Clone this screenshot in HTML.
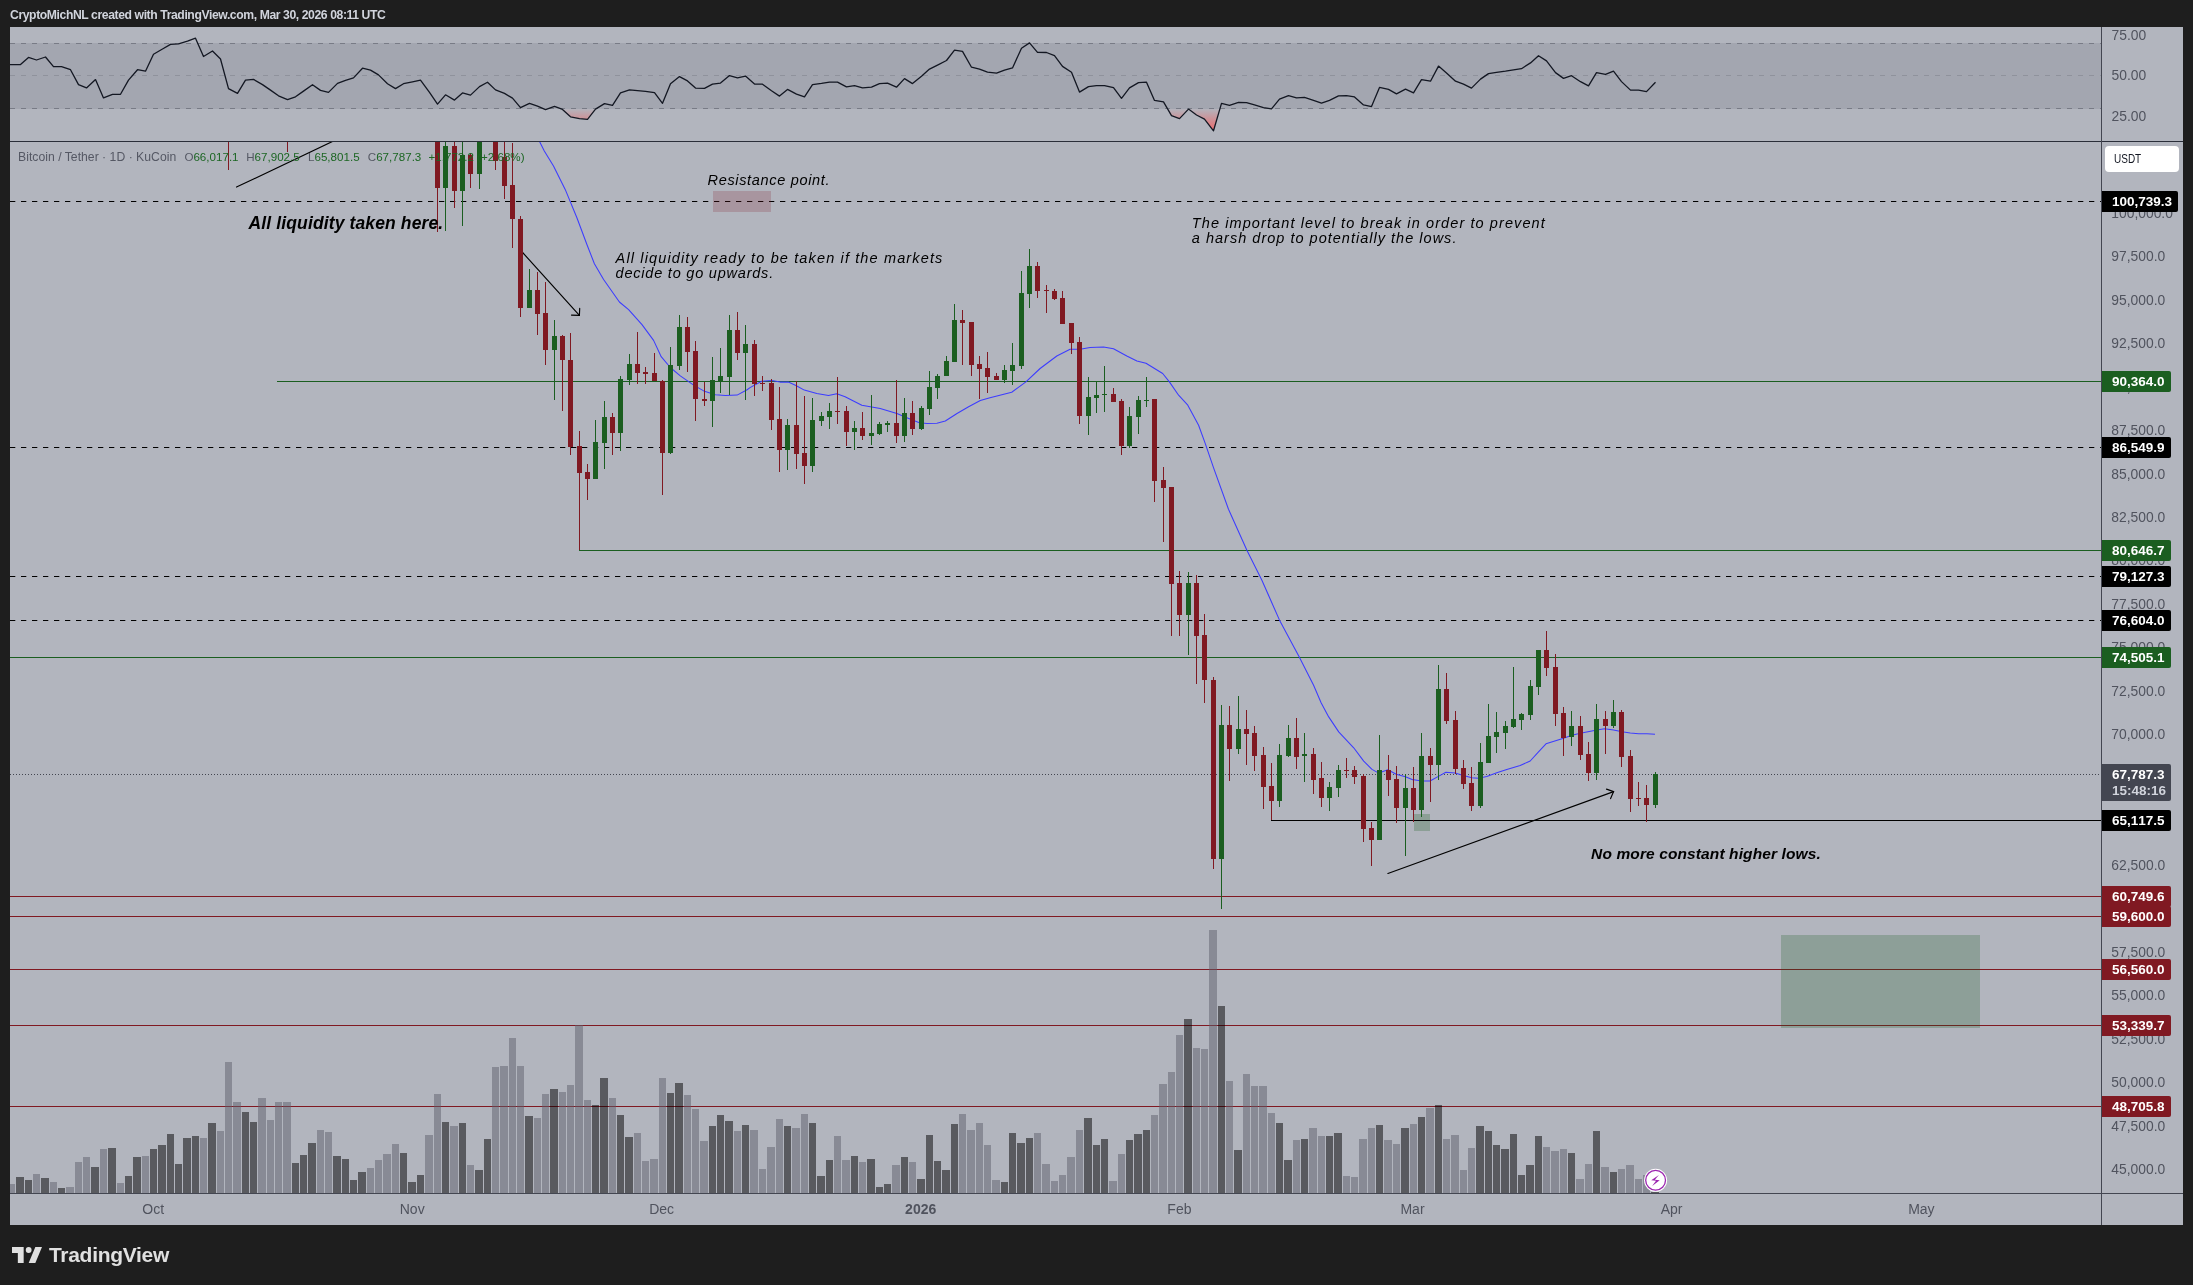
<!DOCTYPE html>
<html><head><meta charset="utf-8"><title>BTCUSDT chart</title>
<style>
html,body{margin:0;padding:0;background:#1e1e1e;}
body{width:2193px;height:1285px;position:relative;overflow:hidden;font-family:"Liberation Sans",sans-serif;}
svg.main{position:absolute;left:0;top:0;}
</style></head><body>
<svg class="main" width="2193" height="1285" viewBox="0 0 2193 1285">
<rect x="10" y="27" width="2173" height="1198" fill="#b2b5be"/>
<rect x="10" y="43" width="2091" height="66" fill="#a3a6b0"/>
<line x1="10" y1="43.5" x2="2101" y2="43.5" stroke="#787b86" stroke-width="1" stroke-dasharray="5 6" stroke-dashoffset="0" opacity="1"/>
<line x1="10" y1="75.5" x2="2101" y2="75.5" stroke="#787b86" stroke-width="1" stroke-dasharray="5 6" stroke-dashoffset="0" opacity="0.45"/>
<line x1="10" y1="108.5" x2="2101" y2="108.5" stroke="#787b86" stroke-width="1" stroke-dasharray="5 6" stroke-dashoffset="0" opacity="1"/>
<defs><linearGradient id="rg" x1="0" y1="108.5" x2="0" y2="138" gradientUnits="userSpaceOnUse"><stop offset="0" stop-color="#ff5252" stop-opacity="0"/><stop offset="1" stop-color="#ff5252" stop-opacity="1"/></linearGradient><clipPath id="rc"><rect x="10" y="108.5" width="2091" height="33"/></clipPath><clipPath id="mainclip"><rect x="10" y="142" width="2091" height="1051"/></clipPath></defs>
<polygon clip-path="url(#rc)" fill="url(#rg)" points="11.5,108.5 11.5,64.6 20.5,64.6 28.5,57.4 36.5,60.0 45.5,57.0 53.5,66.7 61.5,66.6 70.5,69.7 78.5,84.6 86.5,87.9 95.5,79.6 103.5,97.9 112.5,94.3 120.5,94.3 128.5,80.1 137.5,69.7 145.5,71.2 153.5,54.2 162.5,49.0 170.5,44.4 178.5,43.9 187.5,41.2 195.5,38.2 203.5,56.5 212.5,51.0 220.5,59.0 228.5,88.7 237.5,93.4 245.5,80.1 253.5,79.4 262.5,84.6 270.5,90.1 278.5,95.8 287.5,99.6 295.5,96.8 303.5,91.1 312.5,84.7 320.5,90.4 328.5,92.4 337.5,83.4 345.5,80.4 353.5,77.9 362.5,68.2 370.5,70.1 378.5,74.9 387.5,83.7 395.5,88.6 403.5,83.7 412.5,81.9 420.5,80.2 429.5,92.4 437.5,104.1 445.5,94.8 454.5,100.1 462.5,92.9 470.5,95.1 479.5,86.6 487.5,82.2 495.5,89.9 504.5,93.4 512.5,98.1 520.5,107.6 529.5,103.4 537.5,106.1 545.5,109.6 554.5,106.4 562.5,109.4 570.5,116.8 579.5,118.6 587.5,119.3 595.5,109.1 604.5,103.6 612.5,105.4 620.5,92.9 629.5,89.8 637.5,90.6 645.5,91.3 654.5,92.6 662.5,103.3 670.5,83.7 679.5,76.6 687.5,80.9 695.5,88.1 704.5,88.4 712.5,84.2 720.5,83.1 729.5,75.6 737.5,77.9 745.5,76.1 754.5,84.1 762.5,84.2 771.5,90.8 779.5,96.1 787.5,89.4 796.5,94.1 804.5,96.8 812.5,84.6 821.5,83.4 829.5,82.1 837.5,82.1 846.5,86.9 854.5,85.7 862.5,87.9 871.5,87.1 879.5,83.7 887.5,83.2 896.5,87.2 904.5,78.6 912.5,83.6 921.5,76.2 929.5,69.1 937.5,65.1 946.5,60.5 954.5,50.2 962.5,51.4 971.5,67.2 979.5,69.1 987.5,72.1 996.5,73.1 1004.5,70.1 1012.5,67.9 1021.5,48.2 1029.5,42.9 1037.5,52.4 1046.5,52.5 1054.5,55.7 1062.5,66.4 1071.5,72.2 1079.5,92.1 1088.5,86.6 1096.5,85.7 1104.5,85.6 1113.5,87.6 1121.5,98.3 1129.5,87.9 1138.5,82.6 1146.5,82.2 1154.5,100.4 1163.5,101.8 1171.5,115.6 1179.5,118.6 1188.5,109.1 1196.5,115.0 1204.5,119.1 1213.5,130.8 1221.5,103.4 1229.5,105.3 1238.5,102.3 1246.5,102.6 1254.5,104.9 1263.5,107.6 1271.5,108.9 1279.5,99.1 1288.5,95.6 1296.5,97.8 1304.5,97.4 1313.5,100.4 1321.5,103.1 1329.5,100.3 1338.5,95.8 1346.5,95.6 1354.5,96.9 1363.5,104.9 1371.5,106.6 1379.5,87.4 1388.5,89.4 1396.5,93.9 1405.5,89.2 1413.5,92.8 1421.5,79.6 1430.5,81.2 1438.5,66.1 1446.5,72.9 1455.5,81.2 1463.5,84.2 1471.5,88.1 1480.5,79.1 1488.5,73.6 1496.5,72.4 1505.5,71.2 1513.5,69.9 1521.5,68.7 1530.5,62.9 1538.5,55.7 1546.5,60.9 1555.5,72.6 1563.5,78.4 1571.5,75.7 1580.5,81.7 1588.5,85.9 1596.5,72.7 1605.5,74.4 1613.5,71.2 1621.5,81.6 1630.5,90.1 1638.5,90.1 1646.5,91.6 1655.5,82.2 1655.5,108.5"/>
<polyline fill="none" stroke="#131722" stroke-width="1.3" stroke-linejoin="round" points="10,64.6 11.5,64.6 20.5,64.6 28.5,57.4 36.5,60.0 45.5,57.0 53.5,66.7 61.5,66.6 70.5,69.7 78.5,84.6 86.5,87.9 95.5,79.6 103.5,97.9 112.5,94.3 120.5,94.3 128.5,80.1 137.5,69.7 145.5,71.2 153.5,54.2 162.5,49.0 170.5,44.4 178.5,43.9 187.5,41.2 195.5,38.2 203.5,56.5 212.5,51.0 220.5,59.0 228.5,88.7 237.5,93.4 245.5,80.1 253.5,79.4 262.5,84.6 270.5,90.1 278.5,95.8 287.5,99.6 295.5,96.8 303.5,91.1 312.5,84.7 320.5,90.4 328.5,92.4 337.5,83.4 345.5,80.4 353.5,77.9 362.5,68.2 370.5,70.1 378.5,74.9 387.5,83.7 395.5,88.6 403.5,83.7 412.5,81.9 420.5,80.2 429.5,92.4 437.5,104.1 445.5,94.8 454.5,100.1 462.5,92.9 470.5,95.1 479.5,86.6 487.5,82.2 495.5,89.9 504.5,93.4 512.5,98.1 520.5,107.6 529.5,103.4 537.5,106.1 545.5,109.6 554.5,106.4 562.5,109.4 570.5,116.8 579.5,118.6 587.5,119.3 595.5,109.1 604.5,103.6 612.5,105.4 620.5,92.9 629.5,89.8 637.5,90.6 645.5,91.3 654.5,92.6 662.5,103.3 670.5,83.7 679.5,76.6 687.5,80.9 695.5,88.1 704.5,88.4 712.5,84.2 720.5,83.1 729.5,75.6 737.5,77.9 745.5,76.1 754.5,84.1 762.5,84.2 771.5,90.8 779.5,96.1 787.5,89.4 796.5,94.1 804.5,96.8 812.5,84.6 821.5,83.4 829.5,82.1 837.5,82.1 846.5,86.9 854.5,85.7 862.5,87.9 871.5,87.1 879.5,83.7 887.5,83.2 896.5,87.2 904.5,78.6 912.5,83.6 921.5,76.2 929.5,69.1 937.5,65.1 946.5,60.5 954.5,50.2 962.5,51.4 971.5,67.2 979.5,69.1 987.5,72.1 996.5,73.1 1004.5,70.1 1012.5,67.9 1021.5,48.2 1029.5,42.9 1037.5,52.4 1046.5,52.5 1054.5,55.7 1062.5,66.4 1071.5,72.2 1079.5,92.1 1088.5,86.6 1096.5,85.7 1104.5,85.6 1113.5,87.6 1121.5,98.3 1129.5,87.9 1138.5,82.6 1146.5,82.2 1154.5,100.4 1163.5,101.8 1171.5,115.6 1179.5,118.6 1188.5,109.1 1196.5,115.0 1204.5,119.1 1213.5,130.8 1221.5,103.4 1229.5,105.3 1238.5,102.3 1246.5,102.6 1254.5,104.9 1263.5,107.6 1271.5,108.9 1279.5,99.1 1288.5,95.6 1296.5,97.8 1304.5,97.4 1313.5,100.4 1321.5,103.1 1329.5,100.3 1338.5,95.8 1346.5,95.6 1354.5,96.9 1363.5,104.9 1371.5,106.6 1379.5,87.4 1388.5,89.4 1396.5,93.9 1405.5,89.2 1413.5,92.8 1421.5,79.6 1430.5,81.2 1438.5,66.1 1446.5,72.9 1455.5,81.2 1463.5,84.2 1471.5,88.1 1480.5,79.1 1488.5,73.6 1496.5,72.4 1505.5,71.2 1513.5,69.9 1521.5,68.7 1530.5,62.9 1538.5,55.7 1546.5,60.9 1555.5,72.6 1563.5,78.4 1571.5,75.7 1580.5,81.7 1588.5,85.9 1596.5,72.7 1605.5,74.4 1613.5,71.2 1621.5,81.6 1630.5,90.1 1638.5,90.1 1646.5,91.6 1655.5,82.2"/>
<rect x="10" y="141" width="2173" height="1" fill="#2a2e39"/>
<g clip-path="url(#mainclip)">
<rect x="10" y="896" width="2091" height="1" fill="#801922" shape-rendering="crispEdges"/>
<rect x="10" y="916" width="2091" height="1" fill="#801922" shape-rendering="crispEdges"/>
<rect x="10" y="969" width="2091" height="1" fill="#801922" shape-rendering="crispEdges"/>
<rect x="10" y="1025" width="2091" height="1" fill="#801922" shape-rendering="crispEdges"/>
<rect x="10" y="1106" width="2091" height="1" fill="#801922" shape-rendering="crispEdges"/>
<rect x="277" y="381" width="1824" height="1" fill="#1b5e20" shape-rendering="crispEdges"/>
<rect x="579" y="550" width="1522" height="1" fill="#1b5e20" shape-rendering="crispEdges"/>
<rect x="10" y="657" width="2091" height="1" fill="#1b5e20" shape-rendering="crispEdges"/>
<line x1="10" y1="201.5" x2="2101" y2="201.5" stroke="#000" stroke-width="1.1" stroke-dasharray="5.3 5.7" stroke-dashoffset="0" opacity="1"/>
<line x1="10" y1="447.5" x2="2101" y2="447.5" stroke="#000" stroke-width="1.1" stroke-dasharray="5.3 5.7" stroke-dashoffset="0" opacity="1"/>
<line x1="10" y1="576.5" x2="2101" y2="576.5" stroke="#000" stroke-width="1.1" stroke-dasharray="5.3 5.7" stroke-dashoffset="0" opacity="1"/>
<line x1="10" y1="620.5" x2="2101" y2="620.5" stroke="#000" stroke-width="1.1" stroke-dasharray="5.3 5.7" stroke-dashoffset="0" opacity="1"/>
<line x1="10" y1="774.5" x2="2101" y2="774.5" stroke="#434651" stroke-width="1" stroke-dasharray="1 2" stroke-dashoffset="0" opacity="1"/>
<rect x="713" y="191" width="58" height="21" fill="rgba(128,25,34,0.2)"/>
<rect x="1414" y="814" width="16" height="17" fill="rgba(27,94,32,0.25)"/>
<rect x="1781" y="935" width="199" height="93" fill="rgba(27,94,32,0.24)"/>
<polyline fill="none" stroke="#3c3cff" stroke-width="1.05" stroke-linejoin="round" points="539.3,141.0 544.3,151.0 553.5,166.0 565.2,189.4 576.9,217.8 586.9,244.5 594.4,263.7 603.6,279.5 619.4,302.0 628.6,309.6 642.0,324.6 653.6,340.4 661.2,356.7 670.3,367.5 680.3,375.9 693.7,385.1 703.7,390.9 715.4,394.7 725.4,395.6 737.1,395.1 747.1,389.7 750.0,387.6 761.7,381.3 771.7,380.5 780.1,382.1 788.4,382.1 795.9,385.5 804.3,390.1 816.8,393.5 828.5,395.5 836.8,393.8 845.1,396.8 861.8,405.2 880.2,408.5 896.9,413.5 906.9,417.7 919.4,422.7 926.9,423.5 936.9,423.2 945.3,421.0 957.0,413.5 968.6,406.8 980.3,400.5 990.0,397.7 1011.7,392.2 1025.9,381.9 1040.1,368.5 1056.8,356.0 1070.1,349.3 1080.1,349.3 1090.1,347.6 1103.5,347.1 1113.5,348.8 1126.8,356.0 1136.9,361.0 1146.0,363.2 1162.7,373.5 1169.4,381.9 1178.6,395.2 1187.8,405.2 1198.6,425.2 1205.2,443.4 1213.5,467.6 1228.5,509.3 1246.9,550.2 1261.9,580.2 1279.4,619.9 1299.4,657.3 1313.6,685.2 1321.1,702.7 1328.7,716.9 1338.7,731.9 1353.7,747.8 1363.7,761.1 1372.0,769.4 1378.7,773.1 1387.9,769.7 1396.2,774.2 1405.4,776.7 1413.4,779.9 1413.8,779.7 1421.7,781.0 1430.1,781.0 1438.4,776.4 1445.9,772.2 1455.1,773.0 1463.4,775.5 1471.8,777.7 1478.5,778.2 1486.8,776.5 1496.8,772.7 1506.8,769.4 1520.2,765.5 1530.2,761.0 1538.5,751.8 1546.0,743.8 1563.6,738.2 1571.9,735.2 1580.3,733.2 1596.9,730.1 1604.5,728.8 1613.6,730.1 1622.0,731.8 1630.3,733.0 1638.7,733.8 1647.0,733.8 1655.0,734.3"/>
<rect x="1271" y="820" width="830" height="1" fill="#000" shape-rendering="crispEdges"/>
<line x1="236.5" y1="187.1" x2="352.2" y2="132.1" stroke="#000" stroke-width="1.15" stroke-linecap="round"/>
<line x1="522.6" y1="252.5" x2="579.4" y2="315.4" stroke="#000" stroke-width="1.15" stroke-linecap="round"/>
<line x1="579.4" y1="315.4" x2="571.5" y2="315.1" stroke="#000" stroke-width="1.15" stroke-linecap="round"/>
<line x1="579.4" y1="315.4" x2="579.7" y2="308.4" stroke="#000" stroke-width="1.15" stroke-linecap="round"/>
<line x1="1387.9" y1="873.5" x2="1613.6" y2="791.6" stroke="#000" stroke-width="1.15" stroke-linecap="round"/>
<line x1="1613.6" y1="791.6" x2="1606.5" y2="789.1" stroke="#000" stroke-width="1.15" stroke-linecap="round"/>
<line x1="1613.6" y1="791.6" x2="1610.6" y2="798.6" stroke="#000" stroke-width="1.15" stroke-linecap="round"/>
<rect x="8" y="1184" width="7" height="9" fill="rgba(93,96,107,0.5)" shape-rendering="crispEdges"/>
<rect x="16" y="1177" width="8" height="16" fill="rgba(0,0,0,0.5)" shape-rendering="crispEdges"/>
<rect x="25" y="1180" width="7" height="13" fill="rgba(0,0,0,0.5)" shape-rendering="crispEdges"/>
<rect x="33" y="1174" width="7" height="19" fill="rgba(93,96,107,0.5)" shape-rendering="crispEdges"/>
<rect x="41" y="1178" width="8" height="15" fill="rgba(0,0,0,0.5)" shape-rendering="crispEdges"/>
<rect x="50" y="1182" width="7" height="11" fill="rgba(93,96,107,0.5)" shape-rendering="crispEdges"/>
<rect x="58" y="1188" width="7" height="5" fill="rgba(0,0,0,0.5)" shape-rendering="crispEdges"/>
<rect x="66" y="1187" width="8" height="6" fill="rgba(93,96,107,0.5)" shape-rendering="crispEdges"/>
<rect x="75" y="1162" width="7" height="31" fill="rgba(93,96,107,0.5)" shape-rendering="crispEdges"/>
<rect x="83" y="1157" width="7" height="36" fill="rgba(93,96,107,0.5)" shape-rendering="crispEdges"/>
<rect x="91" y="1167" width="8" height="26" fill="rgba(0,0,0,0.5)" shape-rendering="crispEdges"/>
<rect x="100" y="1149" width="7" height="44" fill="rgba(93,96,107,0.5)" shape-rendering="crispEdges"/>
<rect x="108" y="1148" width="8" height="45" fill="rgba(0,0,0,0.5)" shape-rendering="crispEdges"/>
<rect x="117" y="1183" width="7" height="10" fill="rgba(93,96,107,0.5)" shape-rendering="crispEdges"/>
<rect x="125" y="1176" width="7" height="17" fill="rgba(0,0,0,0.5)" shape-rendering="crispEdges"/>
<rect x="133" y="1157" width="8" height="36" fill="rgba(0,0,0,0.5)" shape-rendering="crispEdges"/>
<rect x="142" y="1156" width="7" height="37" fill="rgba(93,96,107,0.5)" shape-rendering="crispEdges"/>
<rect x="150" y="1149" width="7" height="44" fill="rgba(0,0,0,0.5)" shape-rendering="crispEdges"/>
<rect x="158" y="1145" width="8" height="48" fill="rgba(0,0,0,0.5)" shape-rendering="crispEdges"/>
<rect x="167" y="1134" width="7" height="59" fill="rgba(0,0,0,0.5)" shape-rendering="crispEdges"/>
<rect x="175" y="1164" width="7" height="29" fill="rgba(0,0,0,0.5)" shape-rendering="crispEdges"/>
<rect x="183" y="1138" width="8" height="55" fill="rgba(0,0,0,0.5)" shape-rendering="crispEdges"/>
<rect x="192" y="1136" width="7" height="57" fill="rgba(0,0,0,0.5)" shape-rendering="crispEdges"/>
<rect x="200" y="1138" width="7" height="55" fill="rgba(93,96,107,0.5)" shape-rendering="crispEdges"/>
<rect x="208" y="1123" width="8" height="70" fill="rgba(0,0,0,0.5)" shape-rendering="crispEdges"/>
<rect x="217" y="1131" width="7" height="62" fill="rgba(93,96,107,0.5)" shape-rendering="crispEdges"/>
<rect x="225" y="1062" width="7" height="131" fill="rgba(93,96,107,0.5)" shape-rendering="crispEdges"/>
<rect x="233" y="1102" width="8" height="91" fill="rgba(93,96,107,0.5)" shape-rendering="crispEdges"/>
<rect x="242" y="1112" width="7" height="81" fill="rgba(0,0,0,0.5)" shape-rendering="crispEdges"/>
<rect x="250" y="1122" width="7" height="71" fill="rgba(0,0,0,0.5)" shape-rendering="crispEdges"/>
<rect x="258" y="1098" width="8" height="95" fill="rgba(93,96,107,0.5)" shape-rendering="crispEdges"/>
<rect x="267" y="1120" width="7" height="73" fill="rgba(93,96,107,0.5)" shape-rendering="crispEdges"/>
<rect x="275" y="1102" width="7" height="91" fill="rgba(93,96,107,0.5)" shape-rendering="crispEdges"/>
<rect x="283" y="1102" width="8" height="91" fill="rgba(93,96,107,0.5)" shape-rendering="crispEdges"/>
<rect x="292" y="1163" width="7" height="30" fill="rgba(0,0,0,0.5)" shape-rendering="crispEdges"/>
<rect x="300" y="1155" width="7" height="38" fill="rgba(0,0,0,0.5)" shape-rendering="crispEdges"/>
<rect x="308" y="1143" width="8" height="50" fill="rgba(0,0,0,0.5)" shape-rendering="crispEdges"/>
<rect x="317" y="1130" width="7" height="63" fill="rgba(93,96,107,0.5)" shape-rendering="crispEdges"/>
<rect x="325" y="1132" width="7" height="61" fill="rgba(93,96,107,0.5)" shape-rendering="crispEdges"/>
<rect x="333" y="1156" width="8" height="37" fill="rgba(0,0,0,0.5)" shape-rendering="crispEdges"/>
<rect x="342" y="1159" width="7" height="34" fill="rgba(0,0,0,0.5)" shape-rendering="crispEdges"/>
<rect x="350" y="1180" width="7" height="13" fill="rgba(0,0,0,0.5)" shape-rendering="crispEdges"/>
<rect x="358" y="1172" width="8" height="21" fill="rgba(0,0,0,0.5)" shape-rendering="crispEdges"/>
<rect x="367" y="1168" width="7" height="25" fill="rgba(93,96,107,0.5)" shape-rendering="crispEdges"/>
<rect x="375" y="1160" width="7" height="33" fill="rgba(93,96,107,0.5)" shape-rendering="crispEdges"/>
<rect x="383" y="1154" width="8" height="39" fill="rgba(93,96,107,0.5)" shape-rendering="crispEdges"/>
<rect x="392" y="1144" width="7" height="49" fill="rgba(93,96,107,0.5)" shape-rendering="crispEdges"/>
<rect x="400" y="1153" width="7" height="40" fill="rgba(0,0,0,0.5)" shape-rendering="crispEdges"/>
<rect x="408" y="1182" width="8" height="11" fill="rgba(0,0,0,0.5)" shape-rendering="crispEdges"/>
<rect x="417" y="1175" width="7" height="18" fill="rgba(0,0,0,0.5)" shape-rendering="crispEdges"/>
<rect x="425" y="1135" width="8" height="58" fill="rgba(93,96,107,0.5)" shape-rendering="crispEdges"/>
<rect x="434" y="1094" width="7" height="99" fill="rgba(93,96,107,0.5)" shape-rendering="crispEdges"/>
<rect x="442" y="1122" width="7" height="71" fill="rgba(0,0,0,0.5)" shape-rendering="crispEdges"/>
<rect x="450" y="1126" width="8" height="67" fill="rgba(93,96,107,0.5)" shape-rendering="crispEdges"/>
<rect x="459" y="1123" width="7" height="70" fill="rgba(0,0,0,0.5)" shape-rendering="crispEdges"/>
<rect x="467" y="1165" width="7" height="28" fill="rgba(93,96,107,0.5)" shape-rendering="crispEdges"/>
<rect x="475" y="1170" width="8" height="23" fill="rgba(0,0,0,0.5)" shape-rendering="crispEdges"/>
<rect x="484" y="1139" width="7" height="54" fill="rgba(0,0,0,0.5)" shape-rendering="crispEdges"/>
<rect x="492" y="1067" width="7" height="126" fill="rgba(93,96,107,0.5)" shape-rendering="crispEdges"/>
<rect x="500" y="1066" width="8" height="127" fill="rgba(93,96,107,0.5)" shape-rendering="crispEdges"/>
<rect x="509" y="1038" width="7" height="155" fill="rgba(93,96,107,0.5)" shape-rendering="crispEdges"/>
<rect x="517" y="1066" width="7" height="127" fill="rgba(93,96,107,0.5)" shape-rendering="crispEdges"/>
<rect x="525" y="1116" width="8" height="77" fill="rgba(0,0,0,0.5)" shape-rendering="crispEdges"/>
<rect x="534" y="1118" width="7" height="75" fill="rgba(93,96,107,0.5)" shape-rendering="crispEdges"/>
<rect x="542" y="1094" width="7" height="99" fill="rgba(93,96,107,0.5)" shape-rendering="crispEdges"/>
<rect x="550" y="1089" width="8" height="104" fill="rgba(0,0,0,0.5)" shape-rendering="crispEdges"/>
<rect x="559" y="1092" width="7" height="101" fill="rgba(93,96,107,0.5)" shape-rendering="crispEdges"/>
<rect x="567" y="1085" width="7" height="108" fill="rgba(93,96,107,0.5)" shape-rendering="crispEdges"/>
<rect x="575" y="1025" width="8" height="168" fill="rgba(93,96,107,0.5)" shape-rendering="crispEdges"/>
<rect x="584" y="1100" width="7" height="93" fill="rgba(93,96,107,0.5)" shape-rendering="crispEdges"/>
<rect x="592" y="1105" width="7" height="88" fill="rgba(0,0,0,0.5)" shape-rendering="crispEdges"/>
<rect x="600" y="1078" width="8" height="115" fill="rgba(0,0,0,0.5)" shape-rendering="crispEdges"/>
<rect x="609" y="1098" width="7" height="95" fill="rgba(93,96,107,0.5)" shape-rendering="crispEdges"/>
<rect x="617" y="1115" width="7" height="78" fill="rgba(0,0,0,0.5)" shape-rendering="crispEdges"/>
<rect x="625" y="1137" width="8" height="56" fill="rgba(0,0,0,0.5)" shape-rendering="crispEdges"/>
<rect x="634" y="1133" width="7" height="60" fill="rgba(93,96,107,0.5)" shape-rendering="crispEdges"/>
<rect x="642" y="1161" width="7" height="32" fill="rgba(93,96,107,0.5)" shape-rendering="crispEdges"/>
<rect x="650" y="1159" width="8" height="34" fill="rgba(93,96,107,0.5)" shape-rendering="crispEdges"/>
<rect x="659" y="1078" width="7" height="115" fill="rgba(93,96,107,0.5)" shape-rendering="crispEdges"/>
<rect x="667" y="1093" width="7" height="100" fill="rgba(0,0,0,0.5)" shape-rendering="crispEdges"/>
<rect x="675" y="1083" width="8" height="110" fill="rgba(0,0,0,0.5)" shape-rendering="crispEdges"/>
<rect x="684" y="1095" width="7" height="98" fill="rgba(93,96,107,0.5)" shape-rendering="crispEdges"/>
<rect x="692" y="1109" width="7" height="84" fill="rgba(93,96,107,0.5)" shape-rendering="crispEdges"/>
<rect x="700" y="1141" width="8" height="52" fill="rgba(93,96,107,0.5)" shape-rendering="crispEdges"/>
<rect x="709" y="1126" width="7" height="67" fill="rgba(0,0,0,0.5)" shape-rendering="crispEdges"/>
<rect x="717" y="1115" width="7" height="78" fill="rgba(0,0,0,0.5)" shape-rendering="crispEdges"/>
<rect x="725" y="1121" width="8" height="72" fill="rgba(0,0,0,0.5)" shape-rendering="crispEdges"/>
<rect x="734" y="1131" width="7" height="62" fill="rgba(93,96,107,0.5)" shape-rendering="crispEdges"/>
<rect x="742" y="1125" width="7" height="68" fill="rgba(0,0,0,0.5)" shape-rendering="crispEdges"/>
<rect x="750" y="1130" width="8" height="63" fill="rgba(93,96,107,0.5)" shape-rendering="crispEdges"/>
<rect x="759" y="1169" width="7" height="24" fill="rgba(93,96,107,0.5)" shape-rendering="crispEdges"/>
<rect x="767" y="1147" width="8" height="46" fill="rgba(93,96,107,0.5)" shape-rendering="crispEdges"/>
<rect x="776" y="1119" width="7" height="74" fill="rgba(93,96,107,0.5)" shape-rendering="crispEdges"/>
<rect x="784" y="1126" width="7" height="67" fill="rgba(0,0,0,0.5)" shape-rendering="crispEdges"/>
<rect x="792" y="1128" width="8" height="65" fill="rgba(93,96,107,0.5)" shape-rendering="crispEdges"/>
<rect x="801" y="1114" width="7" height="79" fill="rgba(93,96,107,0.5)" shape-rendering="crispEdges"/>
<rect x="809" y="1123" width="7" height="70" fill="rgba(0,0,0,0.5)" shape-rendering="crispEdges"/>
<rect x="817" y="1176" width="8" height="17" fill="rgba(0,0,0,0.5)" shape-rendering="crispEdges"/>
<rect x="826" y="1160" width="7" height="33" fill="rgba(0,0,0,0.5)" shape-rendering="crispEdges"/>
<rect x="834" y="1136" width="7" height="57" fill="rgba(93,96,107,0.5)" shape-rendering="crispEdges"/>
<rect x="842" y="1160" width="8" height="33" fill="rgba(93,96,107,0.5)" shape-rendering="crispEdges"/>
<rect x="851" y="1156" width="7" height="37" fill="rgba(0,0,0,0.5)" shape-rendering="crispEdges"/>
<rect x="859" y="1162" width="7" height="31" fill="rgba(93,96,107,0.5)" shape-rendering="crispEdges"/>
<rect x="867" y="1159" width="8" height="34" fill="rgba(0,0,0,0.5)" shape-rendering="crispEdges"/>
<rect x="876" y="1187" width="7" height="6" fill="rgba(0,0,0,0.5)" shape-rendering="crispEdges"/>
<rect x="884" y="1184" width="7" height="9" fill="rgba(0,0,0,0.5)" shape-rendering="crispEdges"/>
<rect x="892" y="1165" width="8" height="28" fill="rgba(93,96,107,0.5)" shape-rendering="crispEdges"/>
<rect x="901" y="1157" width="7" height="36" fill="rgba(0,0,0,0.5)" shape-rendering="crispEdges"/>
<rect x="909" y="1162" width="7" height="31" fill="rgba(93,96,107,0.5)" shape-rendering="crispEdges"/>
<rect x="917" y="1179" width="8" height="14" fill="rgba(0,0,0,0.5)" shape-rendering="crispEdges"/>
<rect x="926" y="1135" width="7" height="58" fill="rgba(0,0,0,0.5)" shape-rendering="crispEdges"/>
<rect x="934" y="1161" width="7" height="32" fill="rgba(0,0,0,0.5)" shape-rendering="crispEdges"/>
<rect x="942" y="1170" width="8" height="23" fill="rgba(0,0,0,0.5)" shape-rendering="crispEdges"/>
<rect x="951" y="1124" width="7" height="69" fill="rgba(0,0,0,0.5)" shape-rendering="crispEdges"/>
<rect x="959" y="1114" width="7" height="79" fill="rgba(93,96,107,0.5)" shape-rendering="crispEdges"/>
<rect x="967" y="1130" width="8" height="63" fill="rgba(93,96,107,0.5)" shape-rendering="crispEdges"/>
<rect x="976" y="1123" width="7" height="70" fill="rgba(93,96,107,0.5)" shape-rendering="crispEdges"/>
<rect x="984" y="1145" width="7" height="48" fill="rgba(93,96,107,0.5)" shape-rendering="crispEdges"/>
<rect x="992" y="1180" width="8" height="13" fill="rgba(93,96,107,0.5)" shape-rendering="crispEdges"/>
<rect x="1001" y="1182" width="7" height="11" fill="rgba(0,0,0,0.5)" shape-rendering="crispEdges"/>
<rect x="1009" y="1133" width="7" height="60" fill="rgba(0,0,0,0.5)" shape-rendering="crispEdges"/>
<rect x="1017" y="1143" width="8" height="50" fill="rgba(0,0,0,0.5)" shape-rendering="crispEdges"/>
<rect x="1026" y="1138" width="7" height="55" fill="rgba(0,0,0,0.5)" shape-rendering="crispEdges"/>
<rect x="1034" y="1133" width="7" height="60" fill="rgba(93,96,107,0.5)" shape-rendering="crispEdges"/>
<rect x="1042" y="1164" width="8" height="29" fill="rgba(93,96,107,0.5)" shape-rendering="crispEdges"/>
<rect x="1051" y="1181" width="7" height="12" fill="rgba(93,96,107,0.5)" shape-rendering="crispEdges"/>
<rect x="1059" y="1175" width="7" height="18" fill="rgba(93,96,107,0.5)" shape-rendering="crispEdges"/>
<rect x="1067" y="1157" width="8" height="36" fill="rgba(93,96,107,0.5)" shape-rendering="crispEdges"/>
<rect x="1076" y="1130" width="7" height="63" fill="rgba(93,96,107,0.5)" shape-rendering="crispEdges"/>
<rect x="1084" y="1118" width="8" height="75" fill="rgba(0,0,0,0.5)" shape-rendering="crispEdges"/>
<rect x="1093" y="1145" width="7" height="48" fill="rgba(0,0,0,0.5)" shape-rendering="crispEdges"/>
<rect x="1101" y="1139" width="7" height="54" fill="rgba(0,0,0,0.5)" shape-rendering="crispEdges"/>
<rect x="1109" y="1181" width="8" height="12" fill="rgba(93,96,107,0.5)" shape-rendering="crispEdges"/>
<rect x="1118" y="1154" width="7" height="39" fill="rgba(93,96,107,0.5)" shape-rendering="crispEdges"/>
<rect x="1126" y="1140" width="7" height="53" fill="rgba(0,0,0,0.5)" shape-rendering="crispEdges"/>
<rect x="1134" y="1134" width="8" height="59" fill="rgba(0,0,0,0.5)" shape-rendering="crispEdges"/>
<rect x="1143" y="1130" width="7" height="63" fill="rgba(0,0,0,0.5)" shape-rendering="crispEdges"/>
<rect x="1151" y="1115" width="7" height="78" fill="rgba(93,96,107,0.5)" shape-rendering="crispEdges"/>
<rect x="1159" y="1084" width="8" height="109" fill="rgba(93,96,107,0.5)" shape-rendering="crispEdges"/>
<rect x="1168" y="1072" width="7" height="121" fill="rgba(93,96,107,0.5)" shape-rendering="crispEdges"/>
<rect x="1176" y="1035" width="7" height="158" fill="rgba(93,96,107,0.5)" shape-rendering="crispEdges"/>
<rect x="1184" y="1019" width="8" height="174" fill="rgba(0,0,0,0.5)" shape-rendering="crispEdges"/>
<rect x="1193" y="1048" width="7" height="145" fill="rgba(93,96,107,0.5)" shape-rendering="crispEdges"/>
<rect x="1201" y="1049" width="7" height="144" fill="rgba(93,96,107,0.5)" shape-rendering="crispEdges"/>
<rect x="1209" y="930" width="8" height="263" fill="rgba(93,96,107,0.5)" shape-rendering="crispEdges"/>
<rect x="1218" y="1006" width="7" height="187" fill="rgba(0,0,0,0.5)" shape-rendering="crispEdges"/>
<rect x="1226" y="1081" width="7" height="112" fill="rgba(93,96,107,0.5)" shape-rendering="crispEdges"/>
<rect x="1234" y="1150" width="8" height="43" fill="rgba(0,0,0,0.5)" shape-rendering="crispEdges"/>
<rect x="1243" y="1074" width="7" height="119" fill="rgba(93,96,107,0.5)" shape-rendering="crispEdges"/>
<rect x="1251" y="1086" width="7" height="107" fill="rgba(93,96,107,0.5)" shape-rendering="crispEdges"/>
<rect x="1259" y="1086" width="8" height="107" fill="rgba(93,96,107,0.5)" shape-rendering="crispEdges"/>
<rect x="1268" y="1113" width="7" height="80" fill="rgba(93,96,107,0.5)" shape-rendering="crispEdges"/>
<rect x="1276" y="1123" width="7" height="70" fill="rgba(0,0,0,0.5)" shape-rendering="crispEdges"/>
<rect x="1284" y="1160" width="8" height="33" fill="rgba(0,0,0,0.5)" shape-rendering="crispEdges"/>
<rect x="1293" y="1140" width="7" height="53" fill="rgba(93,96,107,0.5)" shape-rendering="crispEdges"/>
<rect x="1301" y="1139" width="7" height="54" fill="rgba(0,0,0,0.5)" shape-rendering="crispEdges"/>
<rect x="1309" y="1128" width="8" height="65" fill="rgba(93,96,107,0.5)" shape-rendering="crispEdges"/>
<rect x="1318" y="1136" width="7" height="57" fill="rgba(93,96,107,0.5)" shape-rendering="crispEdges"/>
<rect x="1326" y="1136" width="7" height="57" fill="rgba(0,0,0,0.5)" shape-rendering="crispEdges"/>
<rect x="1334" y="1133" width="8" height="60" fill="rgba(0,0,0,0.5)" shape-rendering="crispEdges"/>
<rect x="1343" y="1176" width="7" height="17" fill="rgba(93,96,107,0.5)" shape-rendering="crispEdges"/>
<rect x="1351" y="1177" width="7" height="16" fill="rgba(93,96,107,0.5)" shape-rendering="crispEdges"/>
<rect x="1359" y="1139" width="8" height="54" fill="rgba(93,96,107,0.5)" shape-rendering="crispEdges"/>
<rect x="1368" y="1128" width="7" height="65" fill="rgba(93,96,107,0.5)" shape-rendering="crispEdges"/>
<rect x="1376" y="1125" width="7" height="68" fill="rgba(0,0,0,0.5)" shape-rendering="crispEdges"/>
<rect x="1384" y="1140" width="8" height="53" fill="rgba(93,96,107,0.5)" shape-rendering="crispEdges"/>
<rect x="1393" y="1144" width="7" height="49" fill="rgba(93,96,107,0.5)" shape-rendering="crispEdges"/>
<rect x="1401" y="1128" width="8" height="65" fill="rgba(0,0,0,0.5)" shape-rendering="crispEdges"/>
<rect x="1410" y="1124" width="7" height="69" fill="rgba(93,96,107,0.5)" shape-rendering="crispEdges"/>
<rect x="1418" y="1117" width="7" height="76" fill="rgba(0,0,0,0.5)" shape-rendering="crispEdges"/>
<rect x="1426" y="1108" width="8" height="85" fill="rgba(93,96,107,0.5)" shape-rendering="crispEdges"/>
<rect x="1435" y="1105" width="7" height="88" fill="rgba(0,0,0,0.5)" shape-rendering="crispEdges"/>
<rect x="1443" y="1139" width="7" height="54" fill="rgba(93,96,107,0.5)" shape-rendering="crispEdges"/>
<rect x="1451" y="1135" width="8" height="58" fill="rgba(93,96,107,0.5)" shape-rendering="crispEdges"/>
<rect x="1460" y="1170" width="7" height="23" fill="rgba(93,96,107,0.5)" shape-rendering="crispEdges"/>
<rect x="1468" y="1148" width="7" height="45" fill="rgba(93,96,107,0.5)" shape-rendering="crispEdges"/>
<rect x="1476" y="1126" width="8" height="67" fill="rgba(0,0,0,0.5)" shape-rendering="crispEdges"/>
<rect x="1485" y="1131" width="7" height="62" fill="rgba(0,0,0,0.5)" shape-rendering="crispEdges"/>
<rect x="1493" y="1145" width="7" height="48" fill="rgba(0,0,0,0.5)" shape-rendering="crispEdges"/>
<rect x="1501" y="1149" width="8" height="44" fill="rgba(0,0,0,0.5)" shape-rendering="crispEdges"/>
<rect x="1510" y="1134" width="7" height="59" fill="rgba(0,0,0,0.5)" shape-rendering="crispEdges"/>
<rect x="1518" y="1175" width="7" height="18" fill="rgba(0,0,0,0.5)" shape-rendering="crispEdges"/>
<rect x="1526" y="1165" width="8" height="28" fill="rgba(0,0,0,0.5)" shape-rendering="crispEdges"/>
<rect x="1535" y="1136" width="7" height="57" fill="rgba(0,0,0,0.5)" shape-rendering="crispEdges"/>
<rect x="1543" y="1147" width="7" height="46" fill="rgba(93,96,107,0.5)" shape-rendering="crispEdges"/>
<rect x="1551" y="1151" width="8" height="42" fill="rgba(93,96,107,0.5)" shape-rendering="crispEdges"/>
<rect x="1560" y="1149" width="7" height="44" fill="rgba(93,96,107,0.5)" shape-rendering="crispEdges"/>
<rect x="1568" y="1153" width="7" height="40" fill="rgba(0,0,0,0.5)" shape-rendering="crispEdges"/>
<rect x="1576" y="1179" width="8" height="14" fill="rgba(93,96,107,0.5)" shape-rendering="crispEdges"/>
<rect x="1585" y="1164" width="7" height="29" fill="rgba(93,96,107,0.5)" shape-rendering="crispEdges"/>
<rect x="1593" y="1131" width="7" height="62" fill="rgba(0,0,0,0.5)" shape-rendering="crispEdges"/>
<rect x="1601" y="1167" width="8" height="26" fill="rgba(93,96,107,0.5)" shape-rendering="crispEdges"/>
<rect x="1610" y="1172" width="7" height="21" fill="rgba(0,0,0,0.5)" shape-rendering="crispEdges"/>
<rect x="1618" y="1169" width="7" height="24" fill="rgba(93,96,107,0.5)" shape-rendering="crispEdges"/>
<rect x="1626" y="1165" width="8" height="28" fill="rgba(93,96,107,0.5)" shape-rendering="crispEdges"/>
<rect x="1635" y="1179" width="7" height="14" fill="rgba(93,96,107,0.5)" shape-rendering="crispEdges"/>
<rect x="1643" y="1175" width="7" height="18" fill="rgba(93,96,107,0.5)" shape-rendering="crispEdges"/>
<rect x="1651" y="1192" width="8" height="1" fill="rgba(0,0,0,0.5)" shape-rendering="crispEdges"/>
<rect x="228" y="100" width="1" height="70" fill="#801922" shape-rendering="crispEdges"/>
<rect x="226" y="100" width="5" height="1" fill="#801922" shape-rendering="crispEdges"/>
<rect x="287" y="100" width="1" height="52" fill="#801922" shape-rendering="crispEdges"/>
<rect x="285" y="100" width="5" height="1" fill="#801922" shape-rendering="crispEdges"/>
<rect x="437" y="100" width="1" height="132" fill="#801922" shape-rendering="crispEdges"/>
<rect x="435" y="100" width="5" height="88" fill="#801922" shape-rendering="crispEdges"/>
<rect x="445" y="100" width="1" height="131" fill="#1b5e20" shape-rendering="crispEdges"/>
<rect x="443" y="146" width="5" height="42" fill="#1b5e20" shape-rendering="crispEdges"/>
<rect x="454" y="100" width="1" height="108" fill="#801922" shape-rendering="crispEdges"/>
<rect x="452" y="146" width="5" height="45" fill="#801922" shape-rendering="crispEdges"/>
<rect x="462" y="100" width="1" height="126" fill="#1b5e20" shape-rendering="crispEdges"/>
<rect x="460" y="155" width="5" height="36" fill="#1b5e20" shape-rendering="crispEdges"/>
<rect x="470" y="153" width="1" height="35" fill="#801922" shape-rendering="crispEdges"/>
<rect x="468" y="155" width="5" height="19" fill="#801922" shape-rendering="crispEdges"/>
<rect x="479" y="100" width="1" height="89" fill="#1b5e20" shape-rendering="crispEdges"/>
<rect x="477" y="100" width="5" height="74" fill="#1b5e20" shape-rendering="crispEdges"/>
<rect x="495" y="100" width="1" height="70" fill="#801922" shape-rendering="crispEdges"/>
<rect x="493" y="100" width="5" height="61" fill="#801922" shape-rendering="crispEdges"/>
<rect x="504" y="100" width="1" height="99" fill="#801922" shape-rendering="crispEdges"/>
<rect x="502" y="157" width="5" height="29" fill="#801922" shape-rendering="crispEdges"/>
<rect x="512" y="143" width="1" height="105" fill="#801922" shape-rendering="crispEdges"/>
<rect x="510" y="185" width="5" height="34" fill="#801922" shape-rendering="crispEdges"/>
<rect x="520" y="216" width="1" height="101" fill="#801922" shape-rendering="crispEdges"/>
<rect x="518" y="219" width="5" height="89" fill="#801922" shape-rendering="crispEdges"/>
<rect x="529" y="269" width="1" height="39" fill="#1b5e20" shape-rendering="crispEdges"/>
<rect x="527" y="290" width="5" height="18" fill="#1b5e20" shape-rendering="crispEdges"/>
<rect x="537" y="272" width="1" height="63" fill="#801922" shape-rendering="crispEdges"/>
<rect x="535" y="290" width="5" height="24" fill="#801922" shape-rendering="crispEdges"/>
<rect x="545" y="282" width="1" height="83" fill="#801922" shape-rendering="crispEdges"/>
<rect x="543" y="313" width="5" height="37" fill="#801922" shape-rendering="crispEdges"/>
<rect x="554" y="320" width="1" height="80" fill="#1b5e20" shape-rendering="crispEdges"/>
<rect x="552" y="336" width="5" height="14" fill="#1b5e20" shape-rendering="crispEdges"/>
<rect x="562" y="335" width="1" height="76" fill="#801922" shape-rendering="crispEdges"/>
<rect x="560" y="336" width="5" height="24" fill="#801922" shape-rendering="crispEdges"/>
<rect x="570" y="333" width="1" height="122" fill="#801922" shape-rendering="crispEdges"/>
<rect x="568" y="360" width="5" height="87" fill="#801922" shape-rendering="crispEdges"/>
<rect x="579" y="431" width="1" height="119" fill="#801922" shape-rendering="crispEdges"/>
<rect x="577" y="446" width="5" height="27" fill="#801922" shape-rendering="crispEdges"/>
<rect x="587" y="464" width="1" height="36" fill="#801922" shape-rendering="crispEdges"/>
<rect x="585" y="472" width="5" height="7" fill="#801922" shape-rendering="crispEdges"/>
<rect x="595" y="420" width="1" height="59" fill="#1b5e20" shape-rendering="crispEdges"/>
<rect x="593" y="442" width="5" height="37" fill="#1b5e20" shape-rendering="crispEdges"/>
<rect x="604" y="401" width="1" height="68" fill="#1b5e20" shape-rendering="crispEdges"/>
<rect x="602" y="417" width="5" height="26" fill="#1b5e20" shape-rendering="crispEdges"/>
<rect x="612" y="413" width="1" height="42" fill="#801922" shape-rendering="crispEdges"/>
<rect x="610" y="417" width="5" height="16" fill="#801922" shape-rendering="crispEdges"/>
<rect x="620" y="376" width="1" height="75" fill="#1b5e20" shape-rendering="crispEdges"/>
<rect x="618" y="379" width="5" height="54" fill="#1b5e20" shape-rendering="crispEdges"/>
<rect x="629" y="354" width="1" height="31" fill="#1b5e20" shape-rendering="crispEdges"/>
<rect x="627" y="364" width="5" height="16" fill="#1b5e20" shape-rendering="crispEdges"/>
<rect x="637" y="332" width="1" height="52" fill="#801922" shape-rendering="crispEdges"/>
<rect x="635" y="364" width="5" height="9" fill="#801922" shape-rendering="crispEdges"/>
<rect x="645" y="367" width="1" height="17" fill="#801922" shape-rendering="crispEdges"/>
<rect x="643" y="372" width="5" height="2" fill="#801922" shape-rendering="crispEdges"/>
<rect x="654" y="353" width="1" height="28" fill="#801922" shape-rendering="crispEdges"/>
<rect x="652" y="373" width="5" height="8" fill="#801922" shape-rendering="crispEdges"/>
<rect x="662" y="380" width="1" height="115" fill="#801922" shape-rendering="crispEdges"/>
<rect x="660" y="381" width="5" height="72" fill="#801922" shape-rendering="crispEdges"/>
<rect x="670" y="347" width="1" height="107" fill="#1b5e20" shape-rendering="crispEdges"/>
<rect x="668" y="365" width="5" height="88" fill="#1b5e20" shape-rendering="crispEdges"/>
<rect x="679" y="315" width="1" height="55" fill="#1b5e20" shape-rendering="crispEdges"/>
<rect x="677" y="327" width="5" height="39" fill="#1b5e20" shape-rendering="crispEdges"/>
<rect x="687" y="317" width="1" height="55" fill="#801922" shape-rendering="crispEdges"/>
<rect x="685" y="327" width="5" height="25" fill="#801922" shape-rendering="crispEdges"/>
<rect x="695" y="341" width="1" height="80" fill="#801922" shape-rendering="crispEdges"/>
<rect x="693" y="351" width="5" height="48" fill="#801922" shape-rendering="crispEdges"/>
<rect x="704" y="382" width="1" height="24" fill="#801922" shape-rendering="crispEdges"/>
<rect x="702" y="399" width="5" height="2" fill="#801922" shape-rendering="crispEdges"/>
<rect x="712" y="357" width="1" height="70" fill="#1b5e20" shape-rendering="crispEdges"/>
<rect x="710" y="380" width="5" height="21" fill="#1b5e20" shape-rendering="crispEdges"/>
<rect x="720" y="348" width="1" height="45" fill="#1b5e20" shape-rendering="crispEdges"/>
<rect x="718" y="376" width="5" height="5" fill="#1b5e20" shape-rendering="crispEdges"/>
<rect x="729" y="315" width="1" height="80" fill="#1b5e20" shape-rendering="crispEdges"/>
<rect x="727" y="330" width="5" height="47" fill="#1b5e20" shape-rendering="crispEdges"/>
<rect x="737" y="312" width="1" height="48" fill="#801922" shape-rendering="crispEdges"/>
<rect x="735" y="330" width="5" height="23" fill="#801922" shape-rendering="crispEdges"/>
<rect x="745" y="325" width="1" height="75" fill="#1b5e20" shape-rendering="crispEdges"/>
<rect x="743" y="344" width="5" height="9" fill="#1b5e20" shape-rendering="crispEdges"/>
<rect x="754" y="340" width="1" height="56" fill="#801922" shape-rendering="crispEdges"/>
<rect x="752" y="344" width="5" height="40" fill="#801922" shape-rendering="crispEdges"/>
<rect x="762" y="376" width="1" height="15" fill="#801922" shape-rendering="crispEdges"/>
<rect x="760" y="383" width="5" height="1" fill="#801922" shape-rendering="crispEdges"/>
<rect x="771" y="379" width="1" height="51" fill="#801922" shape-rendering="crispEdges"/>
<rect x="769" y="383" width="5" height="37" fill="#801922" shape-rendering="crispEdges"/>
<rect x="779" y="387" width="1" height="85" fill="#801922" shape-rendering="crispEdges"/>
<rect x="777" y="419" width="5" height="31" fill="#801922" shape-rendering="crispEdges"/>
<rect x="787" y="419" width="1" height="51" fill="#1b5e20" shape-rendering="crispEdges"/>
<rect x="785" y="425" width="5" height="25" fill="#1b5e20" shape-rendering="crispEdges"/>
<rect x="796" y="381" width="1" height="88" fill="#801922" shape-rendering="crispEdges"/>
<rect x="794" y="425" width="5" height="29" fill="#801922" shape-rendering="crispEdges"/>
<rect x="804" y="396" width="1" height="88" fill="#801922" shape-rendering="crispEdges"/>
<rect x="802" y="453" width="5" height="13" fill="#801922" shape-rendering="crispEdges"/>
<rect x="812" y="398" width="1" height="74" fill="#1b5e20" shape-rendering="crispEdges"/>
<rect x="810" y="420" width="5" height="46" fill="#1b5e20" shape-rendering="crispEdges"/>
<rect x="821" y="412" width="1" height="14" fill="#1b5e20" shape-rendering="crispEdges"/>
<rect x="819" y="416" width="5" height="5" fill="#1b5e20" shape-rendering="crispEdges"/>
<rect x="829" y="403" width="1" height="26" fill="#1b5e20" shape-rendering="crispEdges"/>
<rect x="827" y="411" width="5" height="6" fill="#1b5e20" shape-rendering="crispEdges"/>
<rect x="837" y="377" width="1" height="47" fill="#801922" shape-rendering="crispEdges"/>
<rect x="835" y="411" width="5" height="1" fill="#801922" shape-rendering="crispEdges"/>
<rect x="846" y="406" width="1" height="40" fill="#801922" shape-rendering="crispEdges"/>
<rect x="844" y="411" width="5" height="21" fill="#801922" shape-rendering="crispEdges"/>
<rect x="854" y="421" width="1" height="29" fill="#1b5e20" shape-rendering="crispEdges"/>
<rect x="852" y="428" width="5" height="4" fill="#1b5e20" shape-rendering="crispEdges"/>
<rect x="862" y="412" width="1" height="28" fill="#801922" shape-rendering="crispEdges"/>
<rect x="860" y="428" width="5" height="8" fill="#801922" shape-rendering="crispEdges"/>
<rect x="871" y="395" width="1" height="50" fill="#1b5e20" shape-rendering="crispEdges"/>
<rect x="869" y="433" width="5" height="3" fill="#1b5e20" shape-rendering="crispEdges"/>
<rect x="879" y="422" width="1" height="13" fill="#1b5e20" shape-rendering="crispEdges"/>
<rect x="877" y="424" width="5" height="10" fill="#1b5e20" shape-rendering="crispEdges"/>
<rect x="887" y="421" width="1" height="11" fill="#1b5e20" shape-rendering="crispEdges"/>
<rect x="885" y="423" width="5" height="2" fill="#1b5e20" shape-rendering="crispEdges"/>
<rect x="896" y="380" width="1" height="63" fill="#801922" shape-rendering="crispEdges"/>
<rect x="894" y="423" width="5" height="13" fill="#801922" shape-rendering="crispEdges"/>
<rect x="904" y="398" width="1" height="44" fill="#1b5e20" shape-rendering="crispEdges"/>
<rect x="902" y="413" width="5" height="23" fill="#1b5e20" shape-rendering="crispEdges"/>
<rect x="912" y="401" width="1" height="34" fill="#801922" shape-rendering="crispEdges"/>
<rect x="910" y="413" width="5" height="16" fill="#801922" shape-rendering="crispEdges"/>
<rect x="921" y="406" width="1" height="24" fill="#1b5e20" shape-rendering="crispEdges"/>
<rect x="919" y="408" width="5" height="21" fill="#1b5e20" shape-rendering="crispEdges"/>
<rect x="929" y="371" width="1" height="44" fill="#1b5e20" shape-rendering="crispEdges"/>
<rect x="927" y="387" width="5" height="22" fill="#1b5e20" shape-rendering="crispEdges"/>
<rect x="937" y="374" width="1" height="25" fill="#1b5e20" shape-rendering="crispEdges"/>
<rect x="935" y="376" width="5" height="12" fill="#1b5e20" shape-rendering="crispEdges"/>
<rect x="946" y="356" width="1" height="20" fill="#1b5e20" shape-rendering="crispEdges"/>
<rect x="944" y="361" width="5" height="15" fill="#1b5e20" shape-rendering="crispEdges"/>
<rect x="954" y="304" width="1" height="58" fill="#1b5e20" shape-rendering="crispEdges"/>
<rect x="952" y="320" width="5" height="42" fill="#1b5e20" shape-rendering="crispEdges"/>
<rect x="962" y="310" width="1" height="55" fill="#801922" shape-rendering="crispEdges"/>
<rect x="960" y="320" width="5" height="3" fill="#801922" shape-rendering="crispEdges"/>
<rect x="971" y="322" width="1" height="54" fill="#801922" shape-rendering="crispEdges"/>
<rect x="969" y="322" width="5" height="43" fill="#801922" shape-rendering="crispEdges"/>
<rect x="979" y="356" width="1" height="43" fill="#801922" shape-rendering="crispEdges"/>
<rect x="977" y="364" width="5" height="5" fill="#801922" shape-rendering="crispEdges"/>
<rect x="987" y="352" width="1" height="41" fill="#801922" shape-rendering="crispEdges"/>
<rect x="985" y="368" width="5" height="9" fill="#801922" shape-rendering="crispEdges"/>
<rect x="996" y="373" width="1" height="7" fill="#801922" shape-rendering="crispEdges"/>
<rect x="994" y="376" width="5" height="4" fill="#801922" shape-rendering="crispEdges"/>
<rect x="1004" y="365" width="1" height="18" fill="#1b5e20" shape-rendering="crispEdges"/>
<rect x="1002" y="370" width="5" height="10" fill="#1b5e20" shape-rendering="crispEdges"/>
<rect x="1012" y="343" width="1" height="42" fill="#1b5e20" shape-rendering="crispEdges"/>
<rect x="1010" y="365" width="5" height="6" fill="#1b5e20" shape-rendering="crispEdges"/>
<rect x="1021" y="271" width="1" height="98" fill="#1b5e20" shape-rendering="crispEdges"/>
<rect x="1019" y="293" width="5" height="73" fill="#1b5e20" shape-rendering="crispEdges"/>
<rect x="1029" y="249" width="1" height="59" fill="#1b5e20" shape-rendering="crispEdges"/>
<rect x="1027" y="266" width="5" height="28" fill="#1b5e20" shape-rendering="crispEdges"/>
<rect x="1037" y="262" width="1" height="36" fill="#801922" shape-rendering="crispEdges"/>
<rect x="1035" y="266" width="5" height="25" fill="#801922" shape-rendering="crispEdges"/>
<rect x="1046" y="285" width="1" height="28" fill="#801922" shape-rendering="crispEdges"/>
<rect x="1044" y="290" width="5" height="1" fill="#801922" shape-rendering="crispEdges"/>
<rect x="1054" y="289" width="1" height="11" fill="#801922" shape-rendering="crispEdges"/>
<rect x="1052" y="291" width="5" height="8" fill="#801922" shape-rendering="crispEdges"/>
<rect x="1062" y="291" width="1" height="33" fill="#801922" shape-rendering="crispEdges"/>
<rect x="1060" y="298" width="5" height="26" fill="#801922" shape-rendering="crispEdges"/>
<rect x="1071" y="323" width="1" height="31" fill="#801922" shape-rendering="crispEdges"/>
<rect x="1069" y="323" width="5" height="20" fill="#801922" shape-rendering="crispEdges"/>
<rect x="1079" y="337" width="1" height="87" fill="#801922" shape-rendering="crispEdges"/>
<rect x="1077" y="342" width="5" height="74" fill="#801922" shape-rendering="crispEdges"/>
<rect x="1088" y="377" width="1" height="58" fill="#1b5e20" shape-rendering="crispEdges"/>
<rect x="1086" y="397" width="5" height="19" fill="#1b5e20" shape-rendering="crispEdges"/>
<rect x="1096" y="382" width="1" height="31" fill="#1b5e20" shape-rendering="crispEdges"/>
<rect x="1094" y="395" width="5" height="3" fill="#1b5e20" shape-rendering="crispEdges"/>
<rect x="1104" y="366" width="1" height="46" fill="#1b5e20" shape-rendering="crispEdges"/>
<rect x="1102" y="394" width="5" height="1" fill="#1b5e20" shape-rendering="crispEdges"/>
<rect x="1113" y="388" width="1" height="14" fill="#801922" shape-rendering="crispEdges"/>
<rect x="1111" y="394" width="5" height="8" fill="#801922" shape-rendering="crispEdges"/>
<rect x="1121" y="399" width="1" height="56" fill="#801922" shape-rendering="crispEdges"/>
<rect x="1119" y="401" width="5" height="45" fill="#801922" shape-rendering="crispEdges"/>
<rect x="1129" y="407" width="1" height="41" fill="#1b5e20" shape-rendering="crispEdges"/>
<rect x="1127" y="416" width="5" height="30" fill="#1b5e20" shape-rendering="crispEdges"/>
<rect x="1138" y="396" width="1" height="38" fill="#1b5e20" shape-rendering="crispEdges"/>
<rect x="1136" y="400" width="5" height="17" fill="#1b5e20" shape-rendering="crispEdges"/>
<rect x="1146" y="377" width="1" height="30" fill="#1b5e20" shape-rendering="crispEdges"/>
<rect x="1144" y="400" width="5" height="1" fill="#1b5e20" shape-rendering="crispEdges"/>
<rect x="1154" y="399" width="1" height="103" fill="#801922" shape-rendering="crispEdges"/>
<rect x="1152" y="399" width="5" height="82" fill="#801922" shape-rendering="crispEdges"/>
<rect x="1163" y="467" width="1" height="75" fill="#801922" shape-rendering="crispEdges"/>
<rect x="1161" y="480" width="5" height="8" fill="#801922" shape-rendering="crispEdges"/>
<rect x="1171" y="487" width="1" height="149" fill="#801922" shape-rendering="crispEdges"/>
<rect x="1169" y="487" width="5" height="97" fill="#801922" shape-rendering="crispEdges"/>
<rect x="1179" y="571" width="1" height="65" fill="#801922" shape-rendering="crispEdges"/>
<rect x="1177" y="583" width="5" height="32" fill="#801922" shape-rendering="crispEdges"/>
<rect x="1188" y="572" width="1" height="83" fill="#1b5e20" shape-rendering="crispEdges"/>
<rect x="1186" y="583" width="5" height="32" fill="#1b5e20" shape-rendering="crispEdges"/>
<rect x="1196" y="575" width="1" height="109" fill="#801922" shape-rendering="crispEdges"/>
<rect x="1194" y="583" width="5" height="53" fill="#801922" shape-rendering="crispEdges"/>
<rect x="1204" y="614" width="1" height="89" fill="#801922" shape-rendering="crispEdges"/>
<rect x="1202" y="635" width="5" height="45" fill="#801922" shape-rendering="crispEdges"/>
<rect x="1213" y="677" width="1" height="192" fill="#801922" shape-rendering="crispEdges"/>
<rect x="1211" y="680" width="5" height="179" fill="#801922" shape-rendering="crispEdges"/>
<rect x="1221" y="705" width="1" height="204" fill="#1b5e20" shape-rendering="crispEdges"/>
<rect x="1219" y="725" width="5" height="134" fill="#1b5e20" shape-rendering="crispEdges"/>
<rect x="1229" y="706" width="1" height="75" fill="#801922" shape-rendering="crispEdges"/>
<rect x="1227" y="725" width="5" height="24" fill="#801922" shape-rendering="crispEdges"/>
<rect x="1238" y="696" width="1" height="58" fill="#1b5e20" shape-rendering="crispEdges"/>
<rect x="1236" y="729" width="5" height="20" fill="#1b5e20" shape-rendering="crispEdges"/>
<rect x="1246" y="710" width="1" height="55" fill="#801922" shape-rendering="crispEdges"/>
<rect x="1244" y="729" width="5" height="5" fill="#801922" shape-rendering="crispEdges"/>
<rect x="1254" y="726" width="1" height="45" fill="#801922" shape-rendering="crispEdges"/>
<rect x="1252" y="733" width="5" height="23" fill="#801922" shape-rendering="crispEdges"/>
<rect x="1263" y="747" width="1" height="62" fill="#801922" shape-rendering="crispEdges"/>
<rect x="1261" y="755" width="5" height="32" fill="#801922" shape-rendering="crispEdges"/>
<rect x="1271" y="763" width="1" height="57" fill="#801922" shape-rendering="crispEdges"/>
<rect x="1269" y="786" width="5" height="15" fill="#801922" shape-rendering="crispEdges"/>
<rect x="1279" y="744" width="1" height="63" fill="#1b5e20" shape-rendering="crispEdges"/>
<rect x="1277" y="755" width="5" height="46" fill="#1b5e20" shape-rendering="crispEdges"/>
<rect x="1288" y="725" width="1" height="32" fill="#1b5e20" shape-rendering="crispEdges"/>
<rect x="1286" y="738" width="5" height="18" fill="#1b5e20" shape-rendering="crispEdges"/>
<rect x="1296" y="718" width="1" height="51" fill="#801922" shape-rendering="crispEdges"/>
<rect x="1294" y="738" width="5" height="19" fill="#801922" shape-rendering="crispEdges"/>
<rect x="1304" y="733" width="1" height="49" fill="#1b5e20" shape-rendering="crispEdges"/>
<rect x="1302" y="754" width="5" height="2" fill="#1b5e20" shape-rendering="crispEdges"/>
<rect x="1313" y="748" width="1" height="46" fill="#801922" shape-rendering="crispEdges"/>
<rect x="1311" y="754" width="5" height="26" fill="#801922" shape-rendering="crispEdges"/>
<rect x="1321" y="762" width="1" height="45" fill="#801922" shape-rendering="crispEdges"/>
<rect x="1319" y="778" width="5" height="20" fill="#801922" shape-rendering="crispEdges"/>
<rect x="1329" y="782" width="1" height="29" fill="#1b5e20" shape-rendering="crispEdges"/>
<rect x="1327" y="787" width="5" height="11" fill="#1b5e20" shape-rendering="crispEdges"/>
<rect x="1338" y="765" width="1" height="32" fill="#1b5e20" shape-rendering="crispEdges"/>
<rect x="1336" y="770" width="5" height="18" fill="#1b5e20" shape-rendering="crispEdges"/>
<rect x="1346" y="758" width="1" height="20" fill="#801922" shape-rendering="crispEdges"/>
<rect x="1344" y="770" width="5" height="1" fill="#801922" shape-rendering="crispEdges"/>
<rect x="1354" y="766" width="1" height="18" fill="#801922" shape-rendering="crispEdges"/>
<rect x="1352" y="770" width="5" height="7" fill="#801922" shape-rendering="crispEdges"/>
<rect x="1363" y="774" width="1" height="68" fill="#801922" shape-rendering="crispEdges"/>
<rect x="1361" y="776" width="5" height="53" fill="#801922" shape-rendering="crispEdges"/>
<rect x="1371" y="822" width="1" height="44" fill="#801922" shape-rendering="crispEdges"/>
<rect x="1369" y="828" width="5" height="12" fill="#801922" shape-rendering="crispEdges"/>
<rect x="1379" y="735" width="1" height="105" fill="#1b5e20" shape-rendering="crispEdges"/>
<rect x="1377" y="770" width="5" height="70" fill="#1b5e20" shape-rendering="crispEdges"/>
<rect x="1388" y="755" width="1" height="41" fill="#801922" shape-rendering="crispEdges"/>
<rect x="1386" y="770" width="5" height="10" fill="#801922" shape-rendering="crispEdges"/>
<rect x="1396" y="766" width="1" height="57" fill="#801922" shape-rendering="crispEdges"/>
<rect x="1394" y="779" width="5" height="29" fill="#801922" shape-rendering="crispEdges"/>
<rect x="1405" y="774" width="1" height="82" fill="#1b5e20" shape-rendering="crispEdges"/>
<rect x="1403" y="788" width="5" height="20" fill="#1b5e20" shape-rendering="crispEdges"/>
<rect x="1413" y="767" width="1" height="55" fill="#801922" shape-rendering="crispEdges"/>
<rect x="1411" y="788" width="5" height="22" fill="#801922" shape-rendering="crispEdges"/>
<rect x="1421" y="733" width="1" height="84" fill="#1b5e20" shape-rendering="crispEdges"/>
<rect x="1419" y="756" width="5" height="54" fill="#1b5e20" shape-rendering="crispEdges"/>
<rect x="1430" y="748" width="1" height="54" fill="#801922" shape-rendering="crispEdges"/>
<rect x="1428" y="756" width="5" height="9" fill="#801922" shape-rendering="crispEdges"/>
<rect x="1438" y="665" width="1" height="115" fill="#1b5e20" shape-rendering="crispEdges"/>
<rect x="1436" y="689" width="5" height="76" fill="#1b5e20" shape-rendering="crispEdges"/>
<rect x="1446" y="673" width="1" height="51" fill="#801922" shape-rendering="crispEdges"/>
<rect x="1444" y="689" width="5" height="32" fill="#801922" shape-rendering="crispEdges"/>
<rect x="1455" y="711" width="1" height="63" fill="#801922" shape-rendering="crispEdges"/>
<rect x="1453" y="720" width="5" height="49" fill="#801922" shape-rendering="crispEdges"/>
<rect x="1463" y="760" width="1" height="29" fill="#801922" shape-rendering="crispEdges"/>
<rect x="1461" y="768" width="5" height="16" fill="#801922" shape-rendering="crispEdges"/>
<rect x="1471" y="767" width="1" height="44" fill="#801922" shape-rendering="crispEdges"/>
<rect x="1469" y="783" width="5" height="23" fill="#801922" shape-rendering="crispEdges"/>
<rect x="1480" y="743" width="1" height="65" fill="#1b5e20" shape-rendering="crispEdges"/>
<rect x="1478" y="762" width="5" height="44" fill="#1b5e20" shape-rendering="crispEdges"/>
<rect x="1488" y="704" width="1" height="59" fill="#1b5e20" shape-rendering="crispEdges"/>
<rect x="1486" y="736" width="5" height="27" fill="#1b5e20" shape-rendering="crispEdges"/>
<rect x="1496" y="712" width="1" height="41" fill="#1b5e20" shape-rendering="crispEdges"/>
<rect x="1494" y="732" width="5" height="5" fill="#1b5e20" shape-rendering="crispEdges"/>
<rect x="1505" y="721" width="1" height="28" fill="#1b5e20" shape-rendering="crispEdges"/>
<rect x="1503" y="726" width="5" height="7" fill="#1b5e20" shape-rendering="crispEdges"/>
<rect x="1513" y="667" width="1" height="61" fill="#1b5e20" shape-rendering="crispEdges"/>
<rect x="1511" y="719" width="5" height="8" fill="#1b5e20" shape-rendering="crispEdges"/>
<rect x="1521" y="713" width="1" height="17" fill="#1b5e20" shape-rendering="crispEdges"/>
<rect x="1519" y="714" width="5" height="6" fill="#1b5e20" shape-rendering="crispEdges"/>
<rect x="1530" y="680" width="1" height="40" fill="#1b5e20" shape-rendering="crispEdges"/>
<rect x="1528" y="686" width="5" height="29" fill="#1b5e20" shape-rendering="crispEdges"/>
<rect x="1538" y="650" width="1" height="45" fill="#1b5e20" shape-rendering="crispEdges"/>
<rect x="1536" y="650" width="5" height="37" fill="#1b5e20" shape-rendering="crispEdges"/>
<rect x="1546" y="631" width="1" height="45" fill="#801922" shape-rendering="crispEdges"/>
<rect x="1544" y="650" width="5" height="18" fill="#801922" shape-rendering="crispEdges"/>
<rect x="1555" y="654" width="1" height="72" fill="#801922" shape-rendering="crispEdges"/>
<rect x="1553" y="667" width="5" height="47" fill="#801922" shape-rendering="crispEdges"/>
<rect x="1563" y="707" width="1" height="49" fill="#801922" shape-rendering="crispEdges"/>
<rect x="1561" y="713" width="5" height="25" fill="#801922" shape-rendering="crispEdges"/>
<rect x="1571" y="711" width="1" height="35" fill="#1b5e20" shape-rendering="crispEdges"/>
<rect x="1569" y="726" width="5" height="11" fill="#1b5e20" shape-rendering="crispEdges"/>
<rect x="1580" y="716" width="1" height="44" fill="#801922" shape-rendering="crispEdges"/>
<rect x="1578" y="726" width="5" height="29" fill="#801922" shape-rendering="crispEdges"/>
<rect x="1588" y="742" width="1" height="39" fill="#801922" shape-rendering="crispEdges"/>
<rect x="1586" y="754" width="5" height="19" fill="#801922" shape-rendering="crispEdges"/>
<rect x="1596" y="704" width="1" height="76" fill="#1b5e20" shape-rendering="crispEdges"/>
<rect x="1594" y="719" width="5" height="54" fill="#1b5e20" shape-rendering="crispEdges"/>
<rect x="1605" y="711" width="1" height="43" fill="#801922" shape-rendering="crispEdges"/>
<rect x="1603" y="719" width="5" height="7" fill="#801922" shape-rendering="crispEdges"/>
<rect x="1613" y="700" width="1" height="28" fill="#1b5e20" shape-rendering="crispEdges"/>
<rect x="1611" y="712" width="5" height="14" fill="#1b5e20" shape-rendering="crispEdges"/>
<rect x="1621" y="710" width="1" height="57" fill="#801922" shape-rendering="crispEdges"/>
<rect x="1619" y="712" width="5" height="45" fill="#801922" shape-rendering="crispEdges"/>
<rect x="1630" y="750" width="1" height="62" fill="#801922" shape-rendering="crispEdges"/>
<rect x="1628" y="756" width="5" height="43" fill="#801922" shape-rendering="crispEdges"/>
<rect x="1638" y="782" width="1" height="24" fill="#801922" shape-rendering="crispEdges"/>
<rect x="1636" y="798" width="5" height="1" fill="#801922" shape-rendering="crispEdges"/>
<rect x="1646" y="785" width="1" height="37" fill="#801922" shape-rendering="crispEdges"/>
<rect x="1644" y="798" width="5" height="7" fill="#801922" shape-rendering="crispEdges"/>
<rect x="1655" y="772" width="1" height="36" fill="#1b5e20" shape-rendering="crispEdges"/>
<rect x="1653" y="774" width="5" height="31" fill="#1b5e20" shape-rendering="crispEdges"/>
</g>
<circle cx="1655.6" cy="1180.3" r="11.5" fill="#fff"/><circle cx="1655.6" cy="1180.3" r="9.9" fill="#fff" stroke="#9c27b0" stroke-width="1.3"/><path d="M1658.9 1175 L1651.2 1180.3 L1656.0 1180.75 L1652.2 1185.9 L1659.7 1180.3 L1654.9 1179.75 Z" fill="#9c27b0"/>
<rect x="2101" y="27" width="1" height="1198" fill="#434651" shape-rendering="crispEdges"/>
<rect x="10" y="1193" width="2173" height="1" fill="#434651" shape-rendering="crispEdges"/>
</svg>
<div id="texts" style="position:absolute;left:0;top:0;width:2193px;height:1285px;will-change:transform;">
<div style="position:absolute;top:4.8px;height:20px;line-height:20px;font-size:12.2px;color:#d1d4dc;font-weight:bold;font-style:normal;white-space:pre;letter-spacing:-0.41px;left:10px;">CryptoMichNL created with TradingView.com, Mar 30, 2026 08:11 UTC</div>
<div style="position:absolute;top:25px;height:20px;line-height:20px;font-size:13.85px;color:#50535e;font-weight:normal;font-style:normal;white-space:pre;left:2111.5px;">75.00</div>
<div style="position:absolute;top:64.9px;height:20px;line-height:20px;font-size:13.85px;color:#50535e;font-weight:normal;font-style:normal;white-space:pre;left:2111.5px;">50.00</div>
<div style="position:absolute;top:106px;height:20px;line-height:20px;font-size:13.85px;color:#50535e;font-weight:normal;font-style:normal;white-space:pre;left:2111.5px;">25.00</div>
<div style="position:absolute;top:202.696px;height:20px;line-height:20px;font-size:13.85px;color:#50535e;font-weight:normal;font-style:normal;white-space:pre;left:2111.3px;">100,000.0</div>
<div style="position:absolute;top:246.171px;height:20px;line-height:20px;font-size:13.85px;color:#50535e;font-weight:normal;font-style:normal;white-space:pre;left:2111.3px;">97,500.0</div>
<div style="position:absolute;top:289.646px;height:20px;line-height:20px;font-size:13.85px;color:#50535e;font-weight:normal;font-style:normal;white-space:pre;left:2111.3px;">95,000.0</div>
<div style="position:absolute;top:333.121px;height:20px;line-height:20px;font-size:13.85px;color:#50535e;font-weight:normal;font-style:normal;white-space:pre;left:2111.3px;">92,500.0</div>
<div style="position:absolute;top:376.596px;height:20px;line-height:20px;font-size:13.85px;color:#50535e;font-weight:normal;font-style:normal;white-space:pre;left:2111.3px;">90,000.0</div>
<div style="position:absolute;top:420.071px;height:20px;line-height:20px;font-size:13.85px;color:#50535e;font-weight:normal;font-style:normal;white-space:pre;left:2111.3px;">87,500.0</div>
<div style="position:absolute;top:463.546px;height:20px;line-height:20px;font-size:13.85px;color:#50535e;font-weight:normal;font-style:normal;white-space:pre;left:2111.3px;">85,000.0</div>
<div style="position:absolute;top:507.021px;height:20px;line-height:20px;font-size:13.85px;color:#50535e;font-weight:normal;font-style:normal;white-space:pre;left:2111.3px;">82,500.0</div>
<div style="position:absolute;top:550.496px;height:20px;line-height:20px;font-size:13.85px;color:#50535e;font-weight:normal;font-style:normal;white-space:pre;left:2111.3px;">80,000.0</div>
<div style="position:absolute;top:593.971px;height:20px;line-height:20px;font-size:13.85px;color:#50535e;font-weight:normal;font-style:normal;white-space:pre;left:2111.3px;">77,500.0</div>
<div style="position:absolute;top:637.446px;height:20px;line-height:20px;font-size:13.85px;color:#50535e;font-weight:normal;font-style:normal;white-space:pre;left:2111.3px;">75,000.0</div>
<div style="position:absolute;top:680.921px;height:20px;line-height:20px;font-size:13.85px;color:#50535e;font-weight:normal;font-style:normal;white-space:pre;left:2111.3px;">72,500.0</div>
<div style="position:absolute;top:724.396px;height:20px;line-height:20px;font-size:13.85px;color:#50535e;font-weight:normal;font-style:normal;white-space:pre;left:2111.3px;">70,000.0</div>
<div style="position:absolute;top:767.871px;height:20px;line-height:20px;font-size:13.85px;color:#50535e;font-weight:normal;font-style:normal;white-space:pre;left:2111.3px;">67,500.0</div>
<div style="position:absolute;top:811.346px;height:20px;line-height:20px;font-size:13.85px;color:#50535e;font-weight:normal;font-style:normal;white-space:pre;left:2111.3px;">65,000.0</div>
<div style="position:absolute;top:854.821px;height:20px;line-height:20px;font-size:13.85px;color:#50535e;font-weight:normal;font-style:normal;white-space:pre;left:2111.3px;">62,500.0</div>
<div style="position:absolute;top:898.296px;height:20px;line-height:20px;font-size:13.85px;color:#50535e;font-weight:normal;font-style:normal;white-space:pre;left:2111.3px;">60,000.0</div>
<div style="position:absolute;top:941.771px;height:20px;line-height:20px;font-size:13.85px;color:#50535e;font-weight:normal;font-style:normal;white-space:pre;left:2111.3px;">57,500.0</div>
<div style="position:absolute;top:985.246px;height:20px;line-height:20px;font-size:13.85px;color:#50535e;font-weight:normal;font-style:normal;white-space:pre;left:2111.3px;">55,000.0</div>
<div style="position:absolute;top:1028.72px;height:20px;line-height:20px;font-size:13.85px;color:#50535e;font-weight:normal;font-style:normal;white-space:pre;left:2111.3px;">52,500.0</div>
<div style="position:absolute;top:1072.2px;height:20px;line-height:20px;font-size:13.85px;color:#50535e;font-weight:normal;font-style:normal;white-space:pre;left:2111.3px;">50,000.0</div>
<div style="position:absolute;top:1115.67px;height:20px;line-height:20px;font-size:13.85px;color:#50535e;font-weight:normal;font-style:normal;white-space:pre;left:2111.3px;">47,500.0</div>
<div style="position:absolute;top:1159.15px;height:20px;line-height:20px;font-size:13.85px;color:#50535e;font-weight:normal;font-style:normal;white-space:pre;left:2111.3px;">45,000.0</div>
<div style="position:absolute;left:2102px;top:191px;width:66px;height:21px;line-height:21px;background:#000;color:#fff;font-weight:bold;font-size:13.5px;padding:0 0 0 10px;border-radius:0 2px 2px 0;white-space:pre;font-kerning:none;">100,739.3</div>
<div style="position:absolute;left:2102px;top:371px;width:59px;height:21px;line-height:21px;background:#1b5e20;color:#fff;font-weight:bold;font-size:13.5px;padding:0 0 0 10px;border-radius:0 2px 2px 0;white-space:pre;font-kerning:none;">90,364.0</div>
<div style="position:absolute;left:2102px;top:437px;width:59px;height:21px;line-height:21px;background:#000;color:#fff;font-weight:bold;font-size:13.5px;padding:0 0 0 10px;border-radius:0 2px 2px 0;white-space:pre;font-kerning:none;">86,549.9</div>
<div style="position:absolute;left:2102px;top:540px;width:59px;height:21px;line-height:21px;background:#1b5e20;color:#fff;font-weight:bold;font-size:13.5px;padding:0 0 0 10px;border-radius:0 2px 2px 0;white-space:pre;font-kerning:none;">80,646.7</div>
<div style="position:absolute;left:2102px;top:566px;width:59px;height:21px;line-height:21px;background:#000;color:#fff;font-weight:bold;font-size:13.5px;padding:0 0 0 10px;border-radius:0 2px 2px 0;white-space:pre;font-kerning:none;">79,127.3</div>
<div style="position:absolute;left:2102px;top:610px;width:59px;height:21px;line-height:21px;background:#000;color:#fff;font-weight:bold;font-size:13.5px;padding:0 0 0 10px;border-radius:0 2px 2px 0;white-space:pre;font-kerning:none;">76,604.0</div>
<div style="position:absolute;left:2102px;top:647px;width:59px;height:21px;line-height:21px;background:#1b5e20;color:#fff;font-weight:bold;font-size:13.5px;padding:0 0 0 10px;border-radius:0 2px 2px 0;white-space:pre;font-kerning:none;">74,505.1</div>
<div style="position:absolute;left:2102px;top:810px;width:59px;height:21px;line-height:21px;background:#000;color:#fff;font-weight:bold;font-size:13.5px;padding:0 0 0 10px;border-radius:0 2px 2px 0;white-space:pre;font-kerning:none;">65,117.5</div>
<div style="position:absolute;left:2102px;top:886px;width:59px;height:21px;line-height:21px;background:#801922;color:#fff;font-weight:bold;font-size:13.5px;padding:0 0 0 10px;border-radius:0 2px 2px 0;white-space:pre;font-kerning:none;">60,749.6</div>
<div style="position:absolute;left:2102px;top:906px;width:59px;height:21px;line-height:21px;background:#801922;color:#fff;font-weight:bold;font-size:13.5px;padding:0 0 0 10px;border-radius:0 2px 2px 0;white-space:pre;font-kerning:none;">59,600.0</div>
<div style="position:absolute;left:2102px;top:959px;width:59px;height:21px;line-height:21px;background:#801922;color:#fff;font-weight:bold;font-size:13.5px;padding:0 0 0 10px;border-radius:0 2px 2px 0;white-space:pre;font-kerning:none;">56,560.0</div>
<div style="position:absolute;left:2102px;top:1015px;width:59px;height:21px;line-height:21px;background:#801922;color:#fff;font-weight:bold;font-size:13.5px;padding:0 0 0 10px;border-radius:0 2px 2px 0;white-space:pre;font-kerning:none;">53,339.7</div>
<div style="position:absolute;left:2102px;top:1096px;width:59px;height:21px;line-height:21px;background:#801922;color:#fff;font-weight:bold;font-size:13.5px;padding:0 0 0 10px;border-radius:0 2px 2px 0;white-space:pre;font-kerning:none;">48,705.8</div>
<div style="position:absolute;left:2102px;top:764px;width:59px;height:37px;background:#434651;color:#fff;font-weight:bold;font-size:13.5px;padding:0 0 0 10px;font-kerning:none;border-radius:0 2px 2px 0;white-space:pre;line-height:16px;"><div style="margin-top:2.5px">67,787.3</div><div style="color:#d1d4dc">15:48:16</div></div>
<div style="position:absolute;left:2105px;top:146px;width:74px;height:26px;background:#fff;border-radius:4px;line-height:26px;font-size:12.5px;color:#131722;"><span style="margin-left:9px;display:inline-block;transform:scaleX(0.8);transform-origin:left center">USDT</span></div>
<div style="position:absolute;top:1199px;height:20px;line-height:20px;font-size:14px;color:#50535e;font-weight:normal;font-style:normal;white-space:pre;left:53.2px;width:200px;text-align:center;">Oct</div>
<div style="position:absolute;top:1199px;height:20px;line-height:20px;font-size:14px;color:#50535e;font-weight:normal;font-style:normal;white-space:pre;left:312.2px;width:200px;text-align:center;">Nov</div>
<div style="position:absolute;top:1199px;height:20px;line-height:20px;font-size:14px;color:#50535e;font-weight:normal;font-style:normal;white-space:pre;left:561.6px;width:200px;text-align:center;">Dec</div>
<div style="position:absolute;top:1199px;height:20px;line-height:20px;font-size:14px;color:#50535e;font-weight:bold;font-style:normal;white-space:pre;left:820.7px;width:200px;text-align:center;">2026</div>
<div style="position:absolute;top:1199px;height:20px;line-height:20px;font-size:14px;color:#50535e;font-weight:normal;font-style:normal;white-space:pre;left:1079.4px;width:200px;text-align:center;">Feb</div>
<div style="position:absolute;top:1199px;height:20px;line-height:20px;font-size:14px;color:#50535e;font-weight:normal;font-style:normal;white-space:pre;left:1312.5px;width:200px;text-align:center;">Mar</div>
<div style="position:absolute;top:1199px;height:20px;line-height:20px;font-size:14px;color:#50535e;font-weight:normal;font-style:normal;white-space:pre;left:1571.6px;width:200px;text-align:center;">Apr</div>
<div style="position:absolute;top:1199px;height:20px;line-height:20px;font-size:14px;color:#50535e;font-weight:normal;font-style:normal;white-space:pre;left:1821.4px;width:200px;text-align:center;">May</div>
<div id="leg" style="position:absolute;left:18px;top:147px;height:20px;line-height:20px;font-size:12.2px;letter-spacing:0.02px;white-space:pre;color:#555864">Bitcoin / Tether · 1D · KuCoin</div>
<div style="position:absolute;left:184.4px;top:147px;height:20px;line-height:20px;font-size:11.6px;white-space:pre;color:#555864">O<span style="color:#1c6623">66,017.1</span></div>
<div style="position:absolute;left:246.2px;top:147px;height:20px;line-height:20px;font-size:11.6px;white-space:pre;color:#555864">H<span style="color:#1c6623">67,902.5</span></div>
<div style="position:absolute;left:308px;top:147px;height:20px;line-height:20px;font-size:11.6px;white-space:pre;color:#555864">L<span style="color:#1c6623">65,801.5</span></div>
<div style="position:absolute;left:367.8px;top:147px;height:20px;line-height:20px;font-size:11.6px;white-space:pre;color:#555864">C<span style="color:#1c6623">67,787.3</span></div>
<div style="position:absolute;left:428.5px;top:147px;height:20px;line-height:20px;font-size:11.6px;white-space:pre;color:#555864"><span style="color:#1c6623">+1,772.2 (+2.68%)</span></div>
<div class="ann" style="position:absolute;left:707.5px;top:169.68px;height:20px;line-height:20px;font-size:14.5px;font-style:italic;font-weight:normal;color:#000;white-space:pre;letter-spacing:0.673px">Resistance point.</div>
<div class="ann" style="position:absolute;left:615.6px;top:247.68px;height:20px;line-height:20px;font-size:14.5px;font-style:italic;font-weight:normal;color:#000;white-space:pre;letter-spacing:1.135px">All liquidity ready to be taken if the markets</div>
<div class="ann" style="position:absolute;left:615.6px;top:263.28px;height:20px;line-height:20px;font-size:14.5px;font-style:italic;font-weight:normal;color:#000;white-space:pre;letter-spacing:0.786px">decide to go upwards.</div>
<div class="ann" style="position:absolute;left:1191.8px;top:212.68px;height:20px;line-height:20px;font-size:14.5px;font-style:italic;font-weight:normal;color:#000;white-space:pre;letter-spacing:1.097px">The important level to break in order to prevent</div>
<div class="ann" style="position:absolute;left:1191.8px;top:228.28px;height:20px;line-height:20px;font-size:14.5px;font-style:italic;font-weight:normal;color:#000;white-space:pre;letter-spacing:1.014px">a harsh drop to potentially the lows.</div>
<div class="ann" style="position:absolute;left:248.6px;top:212.74px;height:20px;line-height:20px;font-size:17.5px;font-style:italic;font-weight:bold;color:#000;white-space:pre;letter-spacing:0.126px">All liquidity taken here.</div>
<div class="ann" style="position:absolute;left:1591.1px;top:843.73px;height:20px;line-height:20px;font-size:15.5px;font-style:italic;font-weight:bold;color:#000;white-space:pre;letter-spacing:0.114px">No more constant higher lows.</div>
<svg style="position:absolute;left:12px;top:1247px" width="30" height="16" viewBox="0 0 36 19"><path fill="#e0e0e0" d="M14 19H7V7H0V0h14v19zM36 0 28 19h-8l8-19h8zM20 7a3.5 3.5 0 1 1 0-7 3.5 3.5 0 0 1 0 7z"/></svg>
<div style="position:absolute;left:49px;top:1242px;font-size:21px;line-height:26px;font-weight:bold;color:#e0e0e0;letter-spacing:-0.3px">TradingView</div>
</div>
</body></html>
